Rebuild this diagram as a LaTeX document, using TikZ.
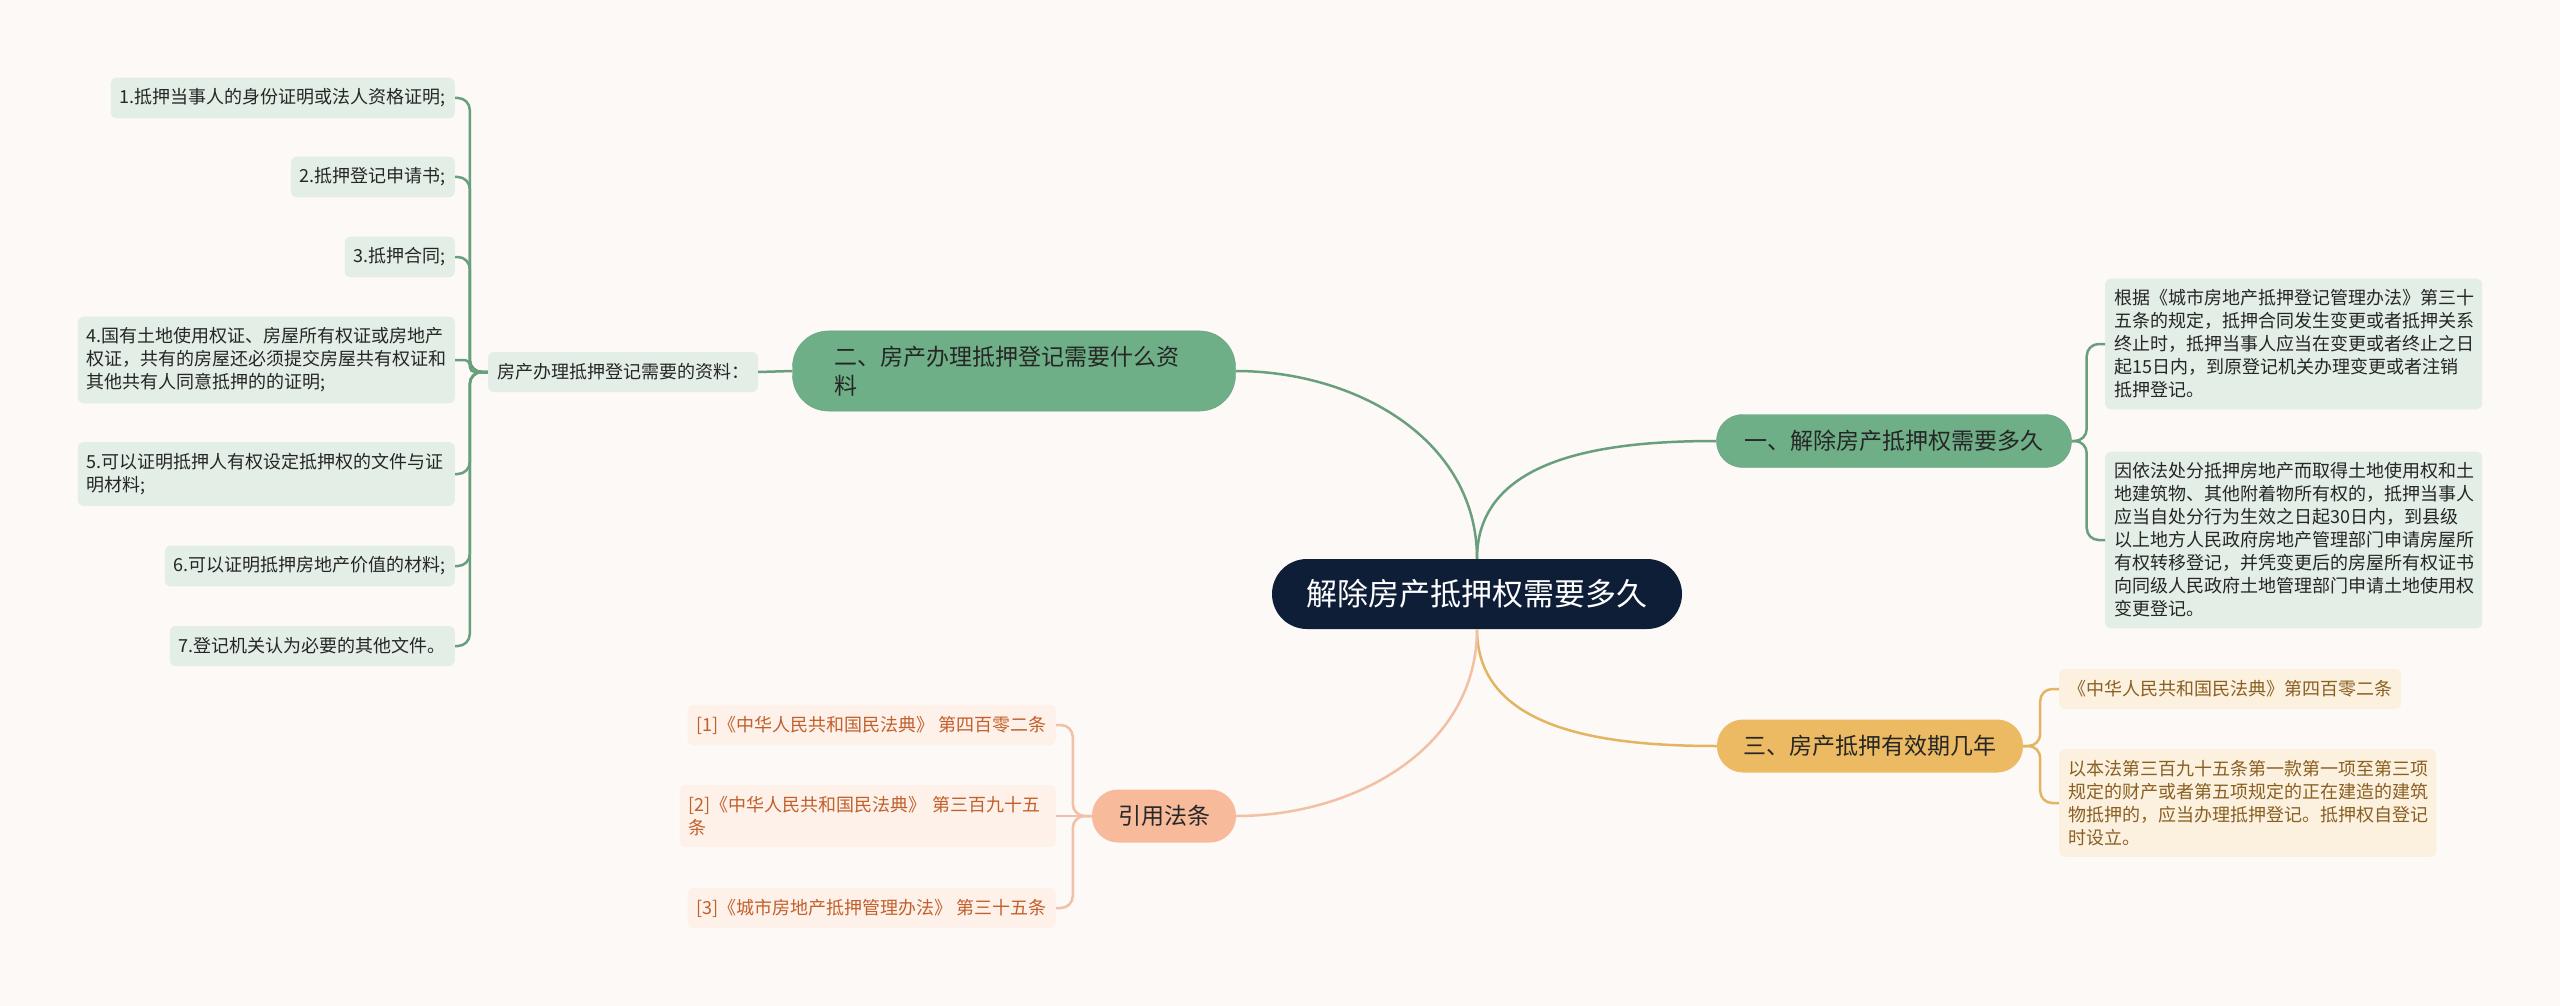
\documentclass[tikz,border=0pt]{standalone}
\usepackage{fontspec}
\setmainfont{Noto Sans CJK SC}
\usetikzlibrary{positioning}
\definecolor{bgpaper}{HTML}{FCF9F7}
\definecolor{rootnavy}{HTML}{0F1E37}
\definecolor{mgreen}{HTML}{6EAF87}
\definecolor{mgreenln}{HTML}{6A9F7E}
\definecolor{lgreen}{HTML}{E2EEE6}
\definecolor{mgold}{HTML}{EBBA62}
\definecolor{mgoldln}{HTML}{E3B563}
\definecolor{lgold}{HTML}{FCF1DF}
\definecolor{tgold}{HTML}{8A5F22}
\definecolor{mpeach}{HTML}{F7BA9B}
\definecolor{mpeachln}{HTML}{F2C0A4}
\definecolor{lpeach}{HTML}{FDF1EA}
\definecolor{tpeach}{HTML}{C2602B}

\begin{document}
\begin{tikzpicture}[x=1pt,y=-1pt,
    root/.style={fill=rootnavy,text=white,rounded corners=35pt,minimum width=410pt,minimum height=70pt,font=\fontsize{31}{38}\selectfont},
    topic/.style={rounded corners=26pt,minimum height=53pt,text=black!85,font=\fontsize{23}{29}\selectfont},
    leaf/.style={rounded corners=6pt,inner xsep=9pt,inner ysep=11pt,minimum height=40pt,align=left,font=\fontsize{18}{23}\selectfont},
    gleaf/.style={leaf,fill=lgreen,text=black!85},
    oleaf/.style={leaf,fill=lgold,text=tgold},
    pleaf/.style={leaf,fill=lpeach,text=tpeach},
    link/.style={line width=2.5pt},
    fork/.style={line width=2.5pt,rounded corners=12pt}]
  \fill[bgpaper] (0,0) rectangle (2560,1006);

  % centre and main topics
  \node[root] (root) at (1477,594) {解除房产抵押权需要多久};
  \node[topic,fill=mgreen,draw=mgreenln,minimum width=355pt] (secA) at (1894,441) {一、解除房产抵押权需要多久};
  \node[topic,fill=mgreen,draw=mgreenln,text width=359pt,inner xsep=42pt,inner ysep=15pt,align=left,rounded corners=36pt] (secB) at (1014,371) {二、房产办理抵押登记需要什么资\\料};
  \node[topic,fill=mgold,minimum width=306pt] (secC) at (1870,746) {三、房产抵押有效期几年};
  \node[topic,fill=mpeach,minimum width=144pt] (cite) at (1164,816) {引用法条};

  % left side: documents
  \node[gleaf] (need) at (623,372) {房产办理抵押登记需要的资料：};
  \node[gleaf,anchor=east] (doc1) at (455,98) {1.抵押当事人的身份证明或法人资格证明;};
  \node[gleaf,anchor=east] (doc2) at (455,177) {2.抵押登记申请书;};
  \node[gleaf,anchor=east] (doc3) at (455,257) {3.抵押合同;};
  \node[gleaf,anchor=east,text width=359pt] (doc4) at (455,360) {4.国有土地使用权证、房屋所有权证或房地产\\权证，共有的房屋还必须提交房屋共有权证和\\其他共有人同意抵押的的证明;};
  \node[gleaf,anchor=east,text width=359pt] (doc5) at (455,474) {5.可以证明抵押人有权设定抵押权的文件与证\\明材料;};
  \node[gleaf,anchor=east] (doc6) at (455,566) {6.可以证明抵押房地产价值的材料;};
  \node[gleaf,anchor=east] (doc7) at (455,646) {7.登记机关认为必要的其他文件。};

  % right side
  \node[gleaf,anchor=west,text width=359pt] (rulA) at (2105,344) {根据《城市房地产抵押登记管理办法》第三十\\五条的规定，抵押合同发生变更或者抵押关系\\终止时，抵押当事人应当在变更或者终止之日\\起15日内，到原登记机关办理变更或者注销\\抵押登记。};
  \node[gleaf,anchor=west,text width=359pt] (rulB) at (2105,540) {因依法处分抵押房地产而取得土地使用权和土\\地建筑物、其他附着物所有权的，抵押当事人\\应当自处分行为生效之日起30日内，到县级\\以上地方人民政府房地产管理部门申请房屋所\\有权转移登记，并凭变更后的房屋所有权证书\\向同级人民政府土地管理部门申请土地使用权\\变更登记。};
  \node[oleaf,anchor=west] (lawA) at (2059,689) {《中华人民共和国民法典》第四百零二条};
  \node[oleaf,anchor=west,text width=359pt] (lawB) at (2059,803) {以本法第三百九十五条第一款第一项至第三项\\规定的财产或者第五项规定的正在建造的建筑\\物抵押的，应当办理抵押登记。抵押权自登记\\时设立。};

  % references
  \node[pleaf,anchor=east] (ref1) at (1056,725) {[1]《中华人民共和国民法典》 第四百零二条};
  \node[pleaf,anchor=east,text width=358pt] (ref2) at (1056,816) {[2]《中华人民共和国民法典》 第三百九十五\\条};
  \node[pleaf,anchor=east] (ref3) at (1056,908) {[3]《城市房地产抵押管理办法》 第三十五条};

  % links from the centre
  \draw[link,mgreenln] (root.north) to[out=90,in=0] (secB.east);
  \draw[link,mgreenln] (root.north) to[out=90,in=180] (secA.west);
  \draw[link,mgoldln] (root.south) to[out=-90,in=180] (secC.west);
  \draw[link,mpeachln] (root.south) to[out=-90,in=0] (cite.east);

  \draw[link,mgreenln] (need.east) -- (secB.west);
  \foreach \d in {doc1,doc2,doc3,doc5,doc6,doc7}
    \draw[fork,mgreenln] (need.west) -- ++(-18,0) |- (\d.east);
  \draw[fork,mgreenln,rounded corners=5pt] (need.west) -- ++(-18,0) |- (doc4.east);

  \foreach \r in {rulA,rulB}
    \draw[fork,mgreenln] (secA.east) -- ++(15,0) |- (\r.west);
  \foreach \r in {lawA,lawB}
    \draw[fork,mgoldln] (secC.east) -- ++(17,0) |- (\r.west);

  \foreach \r in {ref1,ref3}
    \draw[fork,mpeachln] (cite.west) -- ++(-19,0) |- (\r.east);
  \draw[link,mpeachln] (cite.west) -- (ref2.east);
\end{tikzpicture}
\end{document}
